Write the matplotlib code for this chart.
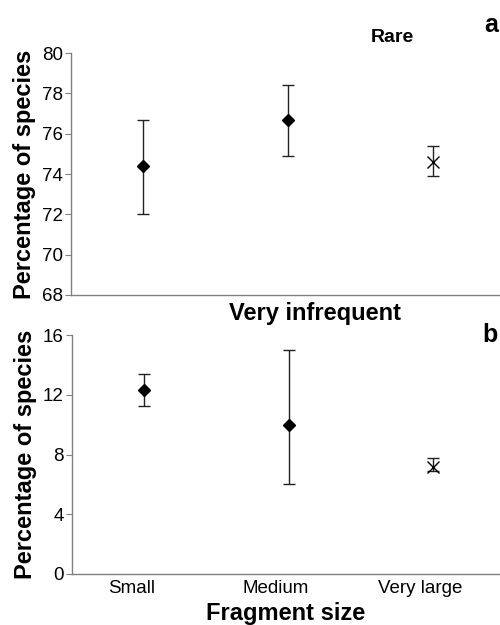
import matplotlib.pyplot as plt
import numpy as np

plt.rcParams['font.family'] = ['Liberation Sans', 'DejaVu Sans']

# fragment size categories
sizes = ["Small", "Medium", "Very large"]

# panel a: rare species
rare_mean = [74.4, 76.7, 74.6]
rare_low = [72.0, 74.9, 73.9]
rare_high = [76.7, 78.4, 75.4]

# panel b: very infrequent species
vinf_mean = [12.3, 10.0, 7.2]
vinf_low = [11.25, 6.0, 6.9]
vinf_high = [13.4, 15.0, 7.75]

markers = ['D', 'D', 'x']

fig = plt.figure(figsize=(5, 6.25), dpi=100)
ax1 = fig.add_axes([0.142, 0.528, 0.858, 0.387])
ax2 = fig.add_axes([0.144, 0.0816, 0.856, 0.382])

pos = np.arange(len(sizes))
shift = 0.09  # points sit a bit right of the labels


def draw(ax, mean, low, high):
    for i in range(len(mean)):
        err = [[mean[i] - low[i]], [high[i] - mean[i]]]
        ax.errorbar(pos[i] + shift, mean[i], yerr=err, fmt=markers[i],
                    color='black', ecolor='#222222', elinewidth=1.0,
                    capsize=4, capthick=1.0, markersize=6.5 if markers[i] == 'D' else 8,
                    markeredgewidth=1.0)
    ax.set_xlim(-0.41, 2.55)
    for s in ['top', 'right']:
        ax.spines[s].set_visible(False)
    for s in ['left', 'bottom']:
        ax.spines[s].set_color('#808080')
        ax.spines[s].set_linewidth(1.0)
    ax.tick_params(axis='y', direction='out', length=4, color='#808080',
                   labelsize=13.5, pad=2)
    ax.tick_params(axis='x', length=0, labelsize=13.5, pad=4)
    ax.set_ylabel("Percentage of species", fontsize=17, fontweight='bold',
                  labelpad=4)


draw(ax1, rare_mean, rare_low, rare_high)
ax1.set_ylim(68, 80)
ax1.set_yticks(np.arange(68, 81, 2))
ax1.set_xticks([])

draw(ax2, vinf_mean, vinf_low, vinf_high)
ax2.set_ylim(0, 16)
ax2.set_yticks(np.arange(0, 17, 4))
ax2.set_xticks(pos)
ax2.set_xticklabels(sizes)
ax2.set_xlabel("Fragment size", fontsize=17, fontweight='bold', labelpad=4)

fig.text(0.784, 0.94, "Rare", fontsize=14, fontweight='bold',
         ha='center', va='center')
fig.text(0.63, 0.499, "Very infrequent", fontsize=17, fontweight='bold',
         ha='center', va='center')
fig.text(0.996, 0.96, "a", fontsize=18, fontweight='bold',
         ha='right', va='center')
fig.text(0.996, 0.464, "b", fontsize=18, fontweight='bold',
         ha='right', va='center')

fig.savefig("out.png", dpi=100)
